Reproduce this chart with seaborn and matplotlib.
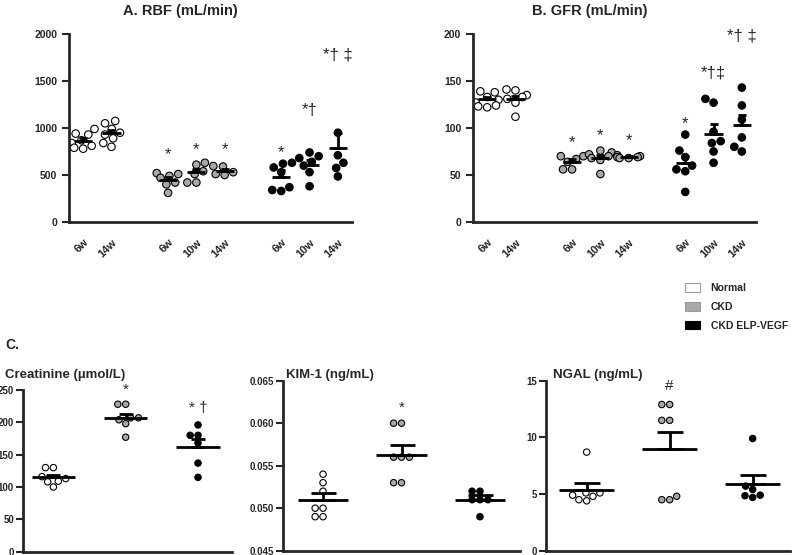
import numpy as np
import pandas as pd
import matplotlib
matplotlib.use("Agg")
import matplotlib.pyplot as plt
from matplotlib.patches import Patch
from matplotlib.ticker import FormatStrFormatter
import seaborn as sns

# ── Groups / colours ─────────────────────────────────────────────────────────
GROUPS = ["Normal", "CKD", "CKD ELP-VEGF"]
COLORS = {"Normal": "white", "CKD": "#a9a9a9", "CKD ELP-VEGF": "black"}

# ── Panels A / B: time course (Normal 6w,14w | CKD 6w,10w,14w | ELP 6w,10w,14w)
TOP_POS = [0, 1, 3, 4, 5, 7, 8, 9]
TOP_GROUP = ["Normal", "Normal", "CKD", "CKD", "CKD",
             "CKD ELP-VEGF", "CKD ELP-VEGF", "CKD ELP-VEGF"]
TOP_LABELS = ["6w", "14w", "6w", "10w", "14w", "6w", "10w", "14w"]

RBF_VALUES = [
    [990, 940, 930, 870, 840, 810, 790, 780],
    [1075, 1050, 990, 950, 930, 890, 840, 800],
    [520, 510, 490, 470, 420, 400, 310],
    [630, 610, 540, 510, 420, 420],
    [595, 590, 530, 510, 500],
    [630, 620, 580, 530, 370, 340, 330],
    [740, 700, 680, 640, 600, 530, 380],
    [950, 710, 630, 575, 485],
]
RBF_MEAN = [865, 945, 447, 528, 540, 480, 610, 790]
RBF_SEM = [30, 35, 35, 40, 20, 70, 45, 155]
RBF_MARKS = ["", "", "*", "*", "*", "*", "*†", "*† ‡"]
RBF_MARK_Y = [0, 0, 713, 766, 766, 734, 1190, 1780]

GFR_VALUES = [
    [139, 138, 133, 130, 127, 124, 122, 123],
    [141, 140, 135, 133, 131, 127, 112],
    [70, 70, 67, 64, 56, 56],
    [76, 74, 72, 70, 68, 66, 51],
    [71, 70, 69, 69, 68, 68],
    [93, 76, 69, 60, 56, 54, 32],
    [131, 127, 96, 86, 84, 75, 63],
    [143, 124, 109, 90, 80, 75],
]
GFR_MEAN = [131, 131, 64, 68, 69, 63, 94, 103]
GFR_SEM = [2, 3, 3, 3, 1, 7, 10, 11]
GFR_MARKS = ["", "", "*", "*", "*", "*", "*†‡", "*† ‡"]
GFR_MARK_Y = [0, 0, 84, 92, 87, 105, 159, 198]

# ── Panel C: biomarkers (Normal | CKD | CKD ELP-VEGF) ────────────────────────
C_POS = [0, 1, 2]

CREAT_VALUES = [
    [130, 130, 116, 113, 109, 108, 100],
    [228, 228, 207, 207, 204, 198, 177],
    [196, 180, 180, 168, 137, 115],
]
CREAT_MEAN = [115, 207, 162]
CREAT_SEM = [4, 6, 13]
CREAT_MARKS = ["", "*", "* †"]
CREAT_MARK_Y = [0, 250, 222]

KIM_VALUES = [
    [0.054, 0.053, 0.052, 0.050, 0.050, 0.049, 0.049],
    [0.060, 0.060, 0.056, 0.056, 0.056, 0.053, 0.053],
    [0.052, 0.052, 0.051, 0.051, 0.051, 0.049],
]
KIM_MEAN = [0.0510, 0.0563, 0.0510]
KIM_SEM = [0.0008, 0.0011, 0.0005]
KIM_MARKS = ["", "*", ""]
KIM_MARK_Y = [0, 0.0618, 0]

NGAL_VALUES = [
    [8.7, 5.1, 4.8, 4.4, 4.5, 4.9, 5.1],
    [12.9, 12.9, 11.5, 11.5, 4.8, 4.5, 4.5],
    [9.9, 5.7, 5.4, 4.9, 4.7, 4.85],
]
NGAL_MEAN = [5.4, 8.95, 5.9]
NGAL_SEM = [0.55, 1.55, 0.8]
NGAL_MARKS = ["", "#", ""]
NGAL_MARK_Y = [0, 14.5, 0]

# ── Style ────────────────────────────────────────────────────────────────────
sns.set_style("ticks")
plt.rcParams["font.family"] = ["Liberation Sans", "DejaVu Sans"]
plt.rcParams["font.weight"] = "bold"


def scatter_panel(ax, pos, groups, values, means, sems, size, half, cap,
                  marks, mark_y, mark_size):
    counts = [len(v) for v in values]
    df = pd.DataFrame({
        "pos": np.repeat(pos, counts),
        "value": np.concatenate(values),
        "group": np.repeat(groups, counts),
    })
    sns.swarmplot(data=df, x="pos", y="value", hue="group", palette=COLORS,
                  hue_order=GROUPS, native_scale=True, size=size,
                  edgecolor="black", linewidth=0.8, legend=False, ax=ax,
                  zorder=2, warn_thresh=1)
    pos = np.asarray(pos, dtype=float)
    ax.hlines(means, pos - half, pos + half, color="black", lw=2, zorder=3)
    ax.errorbar(pos, means, yerr=[np.zeros(len(sems)), sems], fmt="none",
                ecolor="black", elinewidth=2, capsize=cap, capthick=2,
                zorder=3)
    for x, m, y in zip(pos, marks, mark_y):
        if m:
            ax.text(x, y, m, ha="center", va="center",
                    fontsize=mark_size, fontweight="normal")
    ax.set_xlabel("")
    ax.set_ylabel("")
    sns.despine(ax=ax)
    for side in ("left", "bottom"):
        ax.spines[side].set_linewidth(2)
    ax.tick_params(axis="y", length=5, width=1.5, labelsize=7.5)


fig = plt.figure(figsize=(8, 5.55), dpi=100)

# A / B
axA = fig.add_axes([69 / 800, 1 - 222 / 555, 283 / 800, 188 / 555])
axB = fig.add_axes([473 / 800, 1 - 222 / 555, 283 / 800, 188 / 555])
for ax, vals, mean, sem, marks, my, ymax, step in [
    (axA, RBF_VALUES, RBF_MEAN, RBF_SEM, RBF_MARKS, RBF_MARK_Y, 2000, 500),
    (axB, GFR_VALUES, GFR_MEAN, GFR_SEM, GFR_MARKS, GFR_MARK_Y, 200, 50),
]:
    scatter_panel(ax, TOP_POS, TOP_GROUP, vals, mean, sem, 5.4, 0.32, 3.2,
                  marks, my, 12)
    ax.set_xlim(-0.5, 9.5)
    ax.set_ylim(0, ymax)
    ax.set_yticks(np.arange(0, ymax + 1, step))
    ax.set_xticks(TOP_POS)
    ax.set_xticklabels(TOP_LABELS, rotation=45, ha="right", va="top",
                       rotation_mode="anchor", fontsize=8)
    ax.tick_params(axis="x", length=0, pad=11)

fig.text(180 / 800, 1 - 11 / 555, "A. RBF (mL/min)", ha="center",
         va="center", fontsize=10.5, fontweight="bold")
fig.text(590 / 800, 1 - 11 / 555, "B. GFR (mL/min)", ha="center",
         va="center", fontsize=10.5, fontweight="bold")

# Legend
handles = [Patch(facecolor=COLORS[g],
                 edgecolor="#9a9a9a" if g != "CKD ELP-VEGF" else "black",
                 linewidth=0.8, label=g) for g in GROUPS]
fig.legend(handles=handles, loc="upper left",
           bbox_to_anchor=(685 / 800, 1 - 283 / 555), frameon=False,
           handlelength=1.45, handleheight=0.9,
           handletextpad=1.0, labelspacing=0.85, borderpad=0,
           borderaxespad=0, prop={"weight": "bold", "size": 7.5})

fig.text(5 / 800, 1 - 345 / 555, "C.", ha="left", va="center",
         fontsize=10, fontweight="bold")

# C panels
axC1 = fig.add_axes([23 / 800, 1 - 551.7 / 555, 209 / 800, 161.7 / 555])
axC2 = fig.add_axes([283 / 800, 1 - 550.7 / 555, 237 / 800, 170 / 555])
axC3 = fig.add_axes([546 / 800, 1 - 550.7 / 555, 244 / 800, 170 / 555])

scatter_panel(axC1, C_POS, GROUPS, CREAT_VALUES, CREAT_MEAN, CREAT_SEM,
              4.6, 0.3, 4.8, CREAT_MARKS, CREAT_MARK_Y, 11)
axC1.set_xlim(-0.42, 2.47)
axC1.set_ylim(0, 250)
axC1.set_yticks(np.arange(0, 251, 50))

scatter_panel(axC2, C_POS, GROUPS, KIM_VALUES, KIM_MEAN, KIM_SEM,
              4.6, 0.32, 9, KIM_MARKS, KIM_MARK_Y, 11)
axC2.set_xlim(-0.51, 2.51)
axC2.set_ylim(0.045, 0.065)
axC2.set_yticks(np.arange(0.045, 0.0651, 0.005))
axC2.yaxis.set_major_formatter(FormatStrFormatter("%.3f"))

scatter_panel(axC3, C_POS, GROUPS, NGAL_VALUES, NGAL_MEAN, NGAL_SEM,
              4.6, 0.33, 9.7, NGAL_MARKS, NGAL_MARK_Y, 11)
axC3.set_xlim(-0.49, 2.45)
axC3.set_ylim(0, 15)
axC3.set_yticks([0, 5, 10, 15])

for ax in (axC1, axC2, axC3):
    ax.set_xticks([])
    ax.tick_params(axis="y", labelsize=7, pad=1.5)

fig.text(5 / 800, 1 - 378 / 555, "Creatinine (µmol/L)", ha="left",
         va="baseline", fontsize=9.5, fontweight="bold")
fig.text(286 / 800, 1 - 378 / 555, "KIM-1 (ng/mL)", ha="left",
         va="baseline", fontsize=9.5, fontweight="bold")
fig.text(553 / 800, 1 - 378 / 555, "NGAL (ng/mL)", ha="left",
         va="baseline", fontsize=9.5, fontweight="bold")

fig.savefig("out.png", dpi=100, facecolor="white")
